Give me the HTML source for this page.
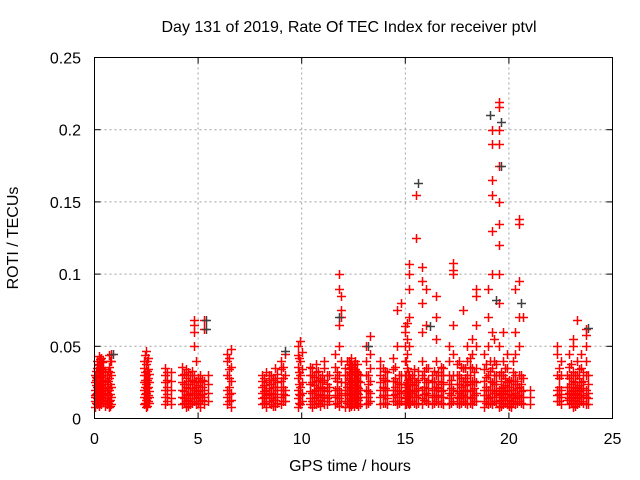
<!DOCTYPE html>
<html><head><meta charset="utf-8"><style>
body{margin:0;background:#fff}
svg{display:block}
text{font-family:"Liberation Sans",sans-serif;font-size:16px;fill:#000}
</style></head><body>
<svg id="chart" width="640" height="480" viewBox="0 0 640 480" xmlns="http://www.w3.org/2000/svg">
<rect width="640" height="480" fill="#fff"/>
<g id="grid"></g>
<g id="marks"></g>
<g id="axes"></g>
<text x="349" y="32" text-anchor="middle">Day 131 of 2019, Rate Of TEC Index for receiver ptvl</text>
<text x="350" y="471" text-anchor="middle">GPS time / hours</text>
<text transform="translate(18,238) rotate(-90)" text-anchor="middle">ROTI / TECUs</text>
</svg>
<script>
const xTicks=[0,5,10,15,20,25];
const yTicks=[0,0.05,0.1,0.15,0.2,0.25];
const yTickLabels=["0","0.05","0.1","0.15","0.2","0.25"];
const colTimes=[0.0,0.1,0.2,0.3,0.4,0.6,0.7,0.8,2.4,2.5,2.6,3.4,3.7,4.2,4.4,4.6,4.8,4.9,5.1,5.3,5.5,6.4,6.6,8.1,8.3,8.5,8.7,9.0,9.2,9.8,9.9,10.0,10.5,10.7,10.9,11.1,11.3,11.6,11.8,11.9,12.1,12.3,12.5,12.6,12.8,13.1,13.3,13.8,14.1,14.4,14.6,14.8,15.0,15.1,15.2,15.3,15.5,15.8,16.0,16.3,16.5,16.8,17.1,17.3,17.6,17.8,18.0,18.2,18.4,18.8,19.0,19.2,19.3,19.5,19.7,19.9,20.1,20.3,20.5,20.7,21.0,22.3,22.5,22.9,23.1,23.3,23.5,23.7,23.8,
0.05,0.15,0.25,0.35,0.5,0.65,0.75,2.45,2.55,2.65,3.5,4.3,4.5,4.7,5.0,5.2,6.5,8.2,8.4,8.6,8.8,9.1,9.85,10.4,10.6,10.8,11.0,11.2,11.7,12.2,12.35,12.4,12.45,12.55,12.65,12.7,13.2,13.9,14.0,14.5,14.7,15.05,15.15,15.25,15.4,15.6,15.9,16.1,16.4,16.6,16.7,17.2,17.5,17.7,17.9,18.1,18.3,18.9,19.1,19.4,19.6,19.8,20.0,20.2,20.4,20.6,22.4,22.8,23.0,23.2,23.4,23.6];
const colValues=[
[.008,.012,.016,.02,.025,.03,.015],[.01,.014,.018,.022,.028,.035,.04],[.009,.013,.017,.021,.026,.032,.043,.038],[.01,.015,.02,.024,.03,.036,.042],[.012,.016,.02,.025,.03,.034,.04],[.01,.014,.018,.022,.03],[.008,.012,.02,.028,.036,.044],[.01,.015,.022,.03,.04,.045],
[.01,.015,.02,.025,.03,.035,.04],[.008,.013,.018,.024,.03,.038,.047],[.012,.016,.022,.028,.034,.042],
[.01,.015,.02,.025,.03,.035],[.01,.014,.02,.026,.032],
[.01,.015,.02,.025,.03,.036],[.008,.012,.016,.022,.028,.034],[.01,.014,.018,.024,.03],[.012,.016,.02,.025,.03,.05,.06,.065,.068],[.01,.014,.018,.022,.026,.04],[.008,.012,.016,.02,.025,.03],[.01,.015,.02,.026,.062,.068],[.012,.018,.024,.03],
[.01,.015,.02,.03,.04,.045],[.008,.013,.018,.026,.036,.048],
[.01,.014,.018,.022,.026,.03],[.008,.012,.016,.02,.025,.032],[.01,.014,.018,.024,.03],[.009,.013,.017,.022,.028,.035],[.01,.015,.02,.026,.034,.04],[.012,.016,.02,.03,.045],
[.008,.014,.02,.028,.036,.044,.05],[.01,.016,.022,.03,.04,.054],[.012,.018,.025,.034,.046],
[.008,.012,.018,.025,.03,.035],[.01,.015,.02,.026,.032,.038],[.009,.013,.017,.022,.028],[.01,.015,.02,.027,.035,.04],[.012,.016,.022,.03],
[.01,.015,.02,.028,.036,.045],[.009,.014,.02,.03,.05,.065,.09,.1],[.012,.018,.025,.04,.07,.075,.085],
[.008,.012,.016,.02,.025,.03,.035],[.008,.012,.016,.02,.024,.028,.034,.04],[.009,.013,.017,.021,.026,.032,.038],[.01,.014,.018,.022,.027,.033],[.01,.015,.02,.025,.03],
[.01,.015,.02,.03,.04,.05],[.012,.018,.026,.035,.045,.057],
[.01,.015,.02,.025,.03,.035,.04],[.01,.014,.02,.026,.032],
[.012,.016,.02,.026,.034,.042],[.01,.015,.02,.025,.05,.075],[.012,.018,.024,.03,.08],
[.01,.014,.018,.022,.03,.04,.05,.06,.064],[.012,.016,.02,.025,.035,.045,.055,.066],[.01,.015,.02,.03,.05,.07,.09,.1,.107],[.012,.018,.024,.03],
[.01,.015,.02,.025,.125,.155],[.01,.014,.02,.03,.04,.06,.08,.095,.105],[.012,.018,.025,.035,.065,.09],
[.01,.015,.02,.025,.03],[.012,.016,.022,.03,.04,.055,.07,.085],[.01,.015,.02,.025,.03,.035],
[.01,.014,.018,.024,.03,.04,.05],[.012,.02,.03,.045,.065,.1,.103,.108],
[.01,.014,.018,.024,.03,.04],[.012,.016,.02,.026,.035,.075],[.01,.015,.02,.025,.03,.04,.05],[.01,.014,.02,.026,.035,.045,.055],[.012,.018,.025,.035,.05,.065,.09,.085],
[.008,.012,.016,.02,.026,.034,.045],[.01,.014,.02,.03,.05,.07,.09],[.01,.015,.02,.025,.035,.06,.1,.13,.155,.165,.2,.19],[.012,.018,.024,.03,.04,.055],
[.008,.012,.016,.02,.03,.05,.08,.1,.12,.135,.15,.175,.19,.2,.216,.219],[.01,.014,.018,.022,.03,.04,.06],[.01,.015,.02,.025,.035,.045],
[.008,.012,.016,.02,.026],[.01,.014,.018,.024,.03,.045,.06,.09],[.012,.016,.022,.03,.05,.07,.095,.135,.138],[.01,.015,.02,.028,.07],[.01,.015,.02],
[.012,.016,.02,.03,.045,.05],[.01,.015,.02,.03,.04],
[.01,.014,.018,.022,.028,.036,.045],[.008,.012,.016,.02,.026,.032,.05,.055],[.01,.014,.018,.022,.03,.04,.068],[.012,.016,.02,.025,.035,.045],[.01,.015,.02,.03,.04,.05,.058,.062],[.01,.014,.018,.024,.03],
[.011,.017,.023,.029,.033,.027],[.011,.019,.024,.031,.037],[.011,.015,.019,.023,.029,.035,.041],[.013,.017,.022,.027,.033,.039],[.009,.013,.017,.021,.027,.032],[.011,.016,.021,.026,.033],[.009,.013,.017,.024,.032,.04],
[.011,.017,.022,.027,.032,.044],[.009,.014,.021,.027,.033,.04],[.011,.015,.019,.025,.031],[.012,.017,.022,.027,.032],[.011,.014,.019,.024,.031],[.009,.013,.017,.021,.026,.032],[.011,.016,.021,.027,.033],[.011,.015,.019,.023,.028],[.013,.017,.022,.027],[.012,.017,.022,.028,.034,.042],
[.011,.015,.019,.023,.028],[.012,.017,.021,.027,.03],[.009,.013,.017,.022,.027],[.011,.015,.02,.025,.031],[.012,.017,.022,.028,.036],[.011,.017,.024,.032,.042],
[.01,.014,.019,.024,.03,.036],[.01,.014,.019,.023,.029],[.011,.016,.021,.027,.033],[.012,.016,.021,.025,.03],[.01,.014,.019,.024,.03],[.011,.016,.021,.026,.032],[.011,.016,.022,.03,.04],
[.01,.014,.018,.022,.027,.032,.038],[.009,.013,.017,.021,.025,.03,.036,.042],[.01,.014,.018,.022,.026,.031,.037],[.011,.015,.019,.023,.028,.034,.04],[.01,.014,.018,.022,.026,.032,.038],[.009,.013,.017,.021,.026,.031],[.011,.015,.019,.024,.03],
[.011,.016,.022,.028,.035],[.011,.016,.021,.027,.033],[.012,.017,.022,.028,.036],[.011,.015,.019,.024,.03],[.01,.014,.019,.024,.03,.04],
[.011,.015,.019,.023,.027,.033],[.011,.015,.019,.023,.028],[.011,.015,.019,.023,.028,.034],[.011,.016,.021,.027,.033],[.013,.017,.022,.028,.033],[.011,.016,.021,.027,.035],[.011,.015,.02,.026,.033],
[.011,.016,.021,.026,.032],[.011,.015,.019,.024,.03,.036],[.011,.016,.021,.027],[.011,.015,.019,.024,.03,.038],
[.011,.016,.022,.028,.036],[.011,.015,.019,.023,.028,.035],[.011,.015,.019,.024,.03,.036,.042],[.012,.016,.021,.026,.032],[.011,.016,.022,.029,.038],[.011,.015,.02,.026,.033,.04],
[.011,.015,.019,.024,.03,.038],[.009,.013,.017,.021,.026,.032],[.011,.015,.019,.023,.028,.035],[.009,.013,.017,.022,.027],[.011,.015,.02,.026,.032,.04],[.011,.016,.021,.026],[.011,.015,.019,.024,.03],[.012,.017,.022,.028,.035],
[.013,.017,.022,.03],[.011,.015,.019,.024,.03,.038],[.009,.013,.017,.021,.025,.03],[.011,.015,.019,.023,.028,.034],[.011,.016,.021,.026,.032],[.012,.016,.02,.025,.03],[.011,.015,.02,.025,.032,.04]
];
const blackTimes=[19.1,19.6,19.6,15.6,5.4,5.4,19.4,20.6,23.8,16.2,13.2,11.8,0.9,9.2];
const blackValues=[.21,.205,.175,.163,.068,.062,.082,.08,.063,.064,.05,.07,.045,.047];

const L=94.5,R=612.5,T=57.5,B=418.5;
const xs=v=>L+(v-0)/25*(R-L);
const ys=v=>B-(v-0)/0.25*(B-T);
const NS="http://www.w3.org/2000/svg";
function mk(tag,attrs,parent){const e=document.createElementNS(NS,tag);for(const k in attrs)e.setAttribute(k,attrs[k]);parent.appendChild(e);return e;}
const grid=document.getElementById('grid'),axes=document.getElementById('axes'),marks=document.getElementById('marks');
xTicks.forEach((t,i)=>{
  const x=xs(t);
  if(i>0&&i<xTicks.length-1){const g=mk('line',{x1:x,x2:x,y1:T,y2:B,stroke:'#a0a0a0','stroke-dasharray':'2,3'},grid);
  
  }
  mk('line',{x1:x,x2:x,y1:B,y2:B-6,stroke:'#000'},axes);
  mk('line',{x1:x,x2:x,y1:T,y2:T+6,stroke:'#000'},axes);
  const tx=mk('text',{x:x,y:444,'text-anchor':'middle'},axes);tx.textContent=String(t);
  
  
});
yTicks.forEach((t,i)=>{
  const y=ys(t);
  if(i>0&&i<yTicks.length-1){const g=mk('line',{x1:L,x2:R,y1:y,y2:y,stroke:'#a0a0a0','stroke-dasharray':'2,3'},grid);
  
  }
  mk('line',{x1:L,x2:L+6,y1:y,y2:y,stroke:'#000'},axes);
  mk('line',{x1:R,x2:R-6,y1:y,y2:y,stroke:'#000'},axes);
  const tx=mk('text',{x:81,y:y+6,'text-anchor':'end'},axes);tx.textContent=yTickLabels[i];
  
  
});
const frame=mk('rect',{x:L,y:T,width:R-L,height:B-T,fill:'none',stroke:'#000'},axes);


function plus(x,y,col){
  const p=mk('path',{d:`M${x-4.5},${y}H${x+4.5}M${x},${y-4.5}V${y+4.5}`,stroke:col,'stroke-width':1.5,fill:'none'},marks);
  
  
}
colTimes.forEach((t,i)=>colValues[i].forEach(v=>plus(Math.round(xs(t))+0.5,Math.round(ys(v))+0.5,'#ff0000')));
blackTimes.forEach((t,i)=>plus(Math.round(xs(t))+0.5,Math.round(ys(blackValues[i]))+0.5,'#404040'));
</script>
</body></html>
